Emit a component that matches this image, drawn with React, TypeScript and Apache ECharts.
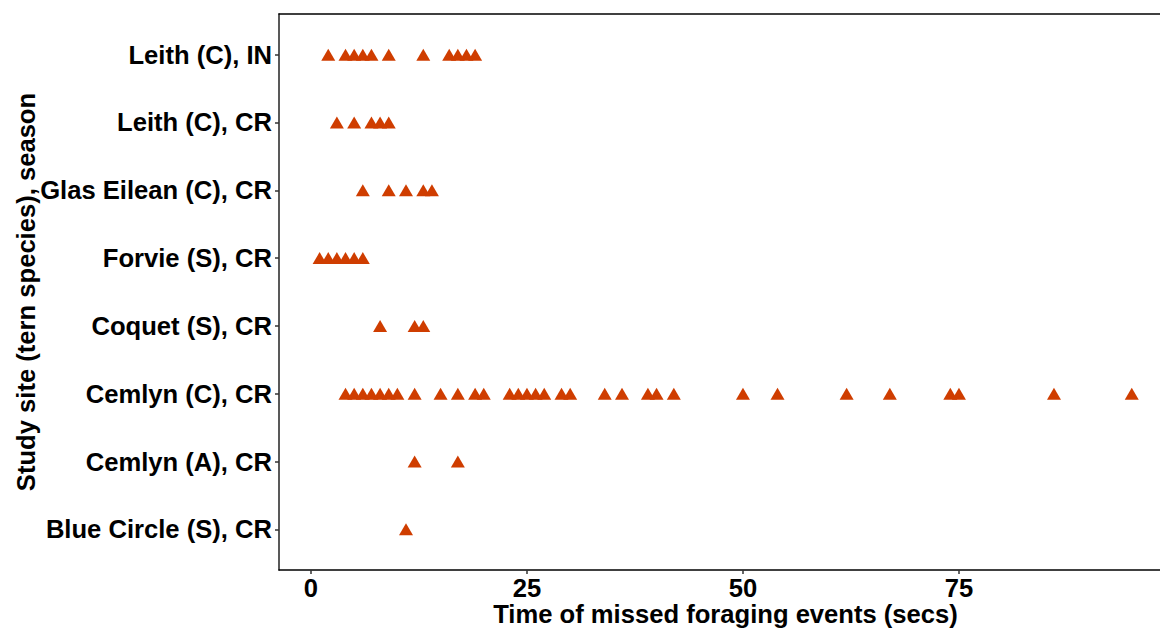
import React, { useEffect, useRef } from "react";
import * as echarts from "echarts";

// Categories, bottom to top
const categories: string[] = [
  "Blue Circle (S), CR",
  "Cemlyn (A), CR",
  "Cemlyn (C), CR",
  "Coquet (S), CR",
  "Forvie (S), CR",
  "Glas Eilean (C), CR",
  "Leith (C), CR",
  "Leith (C), IN",
];

const blueCircleCR: number[] = [11];
const cemlynACR: number[] = [12, 17];
const cemlynCCR: number[] = [
  4, 5, 6, 7, 8, 9, 10, 12, 15, 17, 19, 20, 23, 24, 25, 26, 27, 29, 30, 34, 36,
  39, 40, 42, 50, 54, 62, 67, 74, 75, 86, 95,
];
const coquetSCR: number[] = [8, 12, 13];
const forvieSCR: number[] = [1, 2, 3, 4, 5, 6];
const glasEileanCCR: number[] = [6, 9, 11, 13, 14];
const leithCCR: number[] = [3, 5, 7, 8, 9];
const leithCIN: number[] = [2, 4, 5, 6, 7, 9, 13, 16, 17, 18, 19];

const seriesByCategory: number[][] = [
  blueCircleCR,
  cemlynACR,
  cemlynCCR,
  coquetSCR,
  forvieSCR,
  glasEileanCCR,
  leithCCR,
  leithCIN,
];

const xTicks: number[] = [0, 25, 50, 75];
const xMin = -3.7;
// the panel runs past the right edge of the picture; this is where the picture cuts it
const xMax = 98.27;

export default function App() {
  const ref = useRef<HTMLDivElement>(null);

  useEffect(() => {
    if (!ref.current) return;
    const chart = echarts.init(ref.current, undefined, { renderer: "svg" });
    const data: number[][] = [];
    seriesByCategory.forEach((vals, i) => {
      vals.forEach((v) => data.push([v, i + 1]));
    });
    const font = "'Liberation Sans', Arial, Helvetica, sans-serif";
    const textStyle = {
      fontFamily: font,
      fontWeight: "bold" as const,
      fontSize: 25.6,
      color: "#000",
    };
    chart.setOption({
      animation: false,
      backgroundColor: "#ffffff",
      grid: {
        left: 279,
        right: 0,
        top: 14,
        bottom: 60,
        show: false,
        containLabel: false,
        outerBoundsMode: "none",
      },
      xAxis: [
        {
          type: "value",
          min: xMin,
          max: xMax,
          position: "bottom",
          name: "Time of missed foraging events (secs)",
          nameLocation: "middle",
          nameGap: 31,
          nameMoveOverlap: false,
          nameTextStyle: { ...textStyle, padding: [0, 0, 0, 12] },
          axisLine: {
            show: true,
            onZero: false,
            lineStyle: { color: "#000", width: 1.5 },
          },
          axisTick: {
            show: true,
            length: 4,
            customValues: xTicks,
            lineStyle: { color: "#333", width: 1.5 },
          },
          axisLabel: {
            customValues: xTicks,
            margin: 5,
            ...textStyle,
          },
          splitLine: { show: false },
        },
        {
          type: "value",
          min: xMin,
          max: xMax,
          position: "top",
          axisLine: {
            show: true,
            onZero: false,
            lineStyle: { color: "#000", width: 1.5 },
          },
          axisTick: { show: false },
          axisLabel: { show: false },
          splitLine: { show: false },
        },
      ],
      yAxis: {
        type: "value",
        min: 0.4,
        max: 8.6,
        name: "Study site (tern species), season",
        nameLocation: "middle",
        nameGap: 240,
        nameMoveOverlap: false,
        nameRotate: 90,
        nameTextStyle: textStyle,
        axisLine: {
          show: true,
          onZero: false,
          lineStyle: { color: "#222", width: 1.5 },
        },
        axisTick: {
          show: true,
          length: 4,
          customValues: categories.map((_, i) => i + 1),
          lineStyle: { color: "#333", width: 1.5 },
        },
        axisLabel: {
          customValues: categories.map((_, i) => i + 1),
          formatter: (v: number) => categories[Math.round(v) - 1] ?? "",
          margin: 7,
          ...textStyle,
        },
        splitLine: { show: false },
      },
      series: [
        {
          type: "scatter",
          data,
          symbol: "triangle",
          symbolSize: [14, 12],
          itemStyle: { color: "#CF3D00", opacity: 1 },
        },
      ],
    });
    return () => chart.dispose();
  }, []);

  return (
    <div
      ref={ref}
      style={{
        position: "fixed",
        left: 0,
        top: 0,
        width: 1160,
        height: 630,
        background: "#fff",
      }}
    />
  );
}
